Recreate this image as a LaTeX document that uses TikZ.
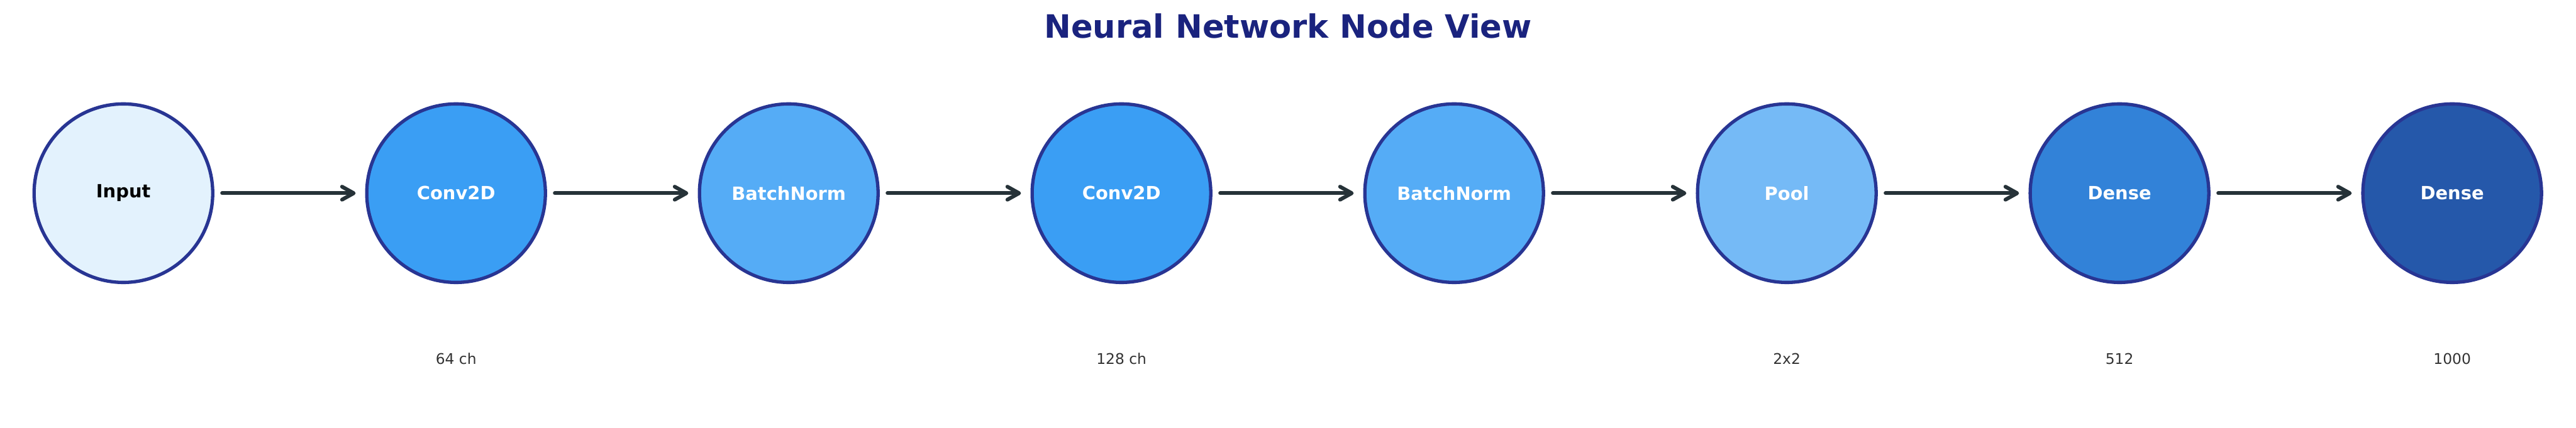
\documentclass[tikz,border=0pt]{standalone}
\usepackage{fontspec}
\setmainfont{DejaVu Sans}
\usetikzlibrary{arrows.meta}
\definecolor{titlecol}{HTML}{1A237E}
\definecolor{bordercol}{HTML}{283593}
\definecolor{arrowcol}{HTML}{263238}
\definecolor{subcol}{HTML}{333333}
\definecolor{cInput}{HTML}{E3F2FD}
\definecolor{cConv}{HTML}{3A9EF4}
\definecolor{cBN}{HTML}{55ACF6}
\definecolor{cPool}{HTML}{75BAF6}
\definecolor{cDenseA}{HTML}{3282D8}
\definecolor{cDenseB}{HTML}{2558AA}
\tikzset{
  layer/.style={circle, draw=bordercol, line width=2.2pt, minimum size=4.14cm, inner sep=0pt,
    font=\fontsize{12}{14}\selectfont\bfseries, text=white},
  sublab/.style={font=\fontsize{9.7}{11}\selectfont, text=subcol},
  conn/.style={draw=arrowcol, line width=2.5pt, line cap=round,
    -{Straight Barb[length=0.27cm, width=0.3cm, line cap=round, round]},
    shorten <=0.18cm, shorten >=0.22cm}
}
\begin{document}
\begin{tikzpicture}
\useasboundingbox (0,0) rectangle (59.70,9.92);
\node[font=\fontsize{21.2}{25}\selectfont\bfseries, text=titlecol] (title) at (29.85,9.32) {Neural Network Node View};
\node[layer, fill=cInput, text=black] (n1) at (2.86,5.44) {Input};
\node[layer, fill=cConv] (n2) at (10.57,5.44) {Conv2D};
\node[layer, fill=cBN] (n3) at (18.28,5.44) {BatchNorm};
\node[layer, fill=cConv] (n4) at (25.99,5.44) {Conv2D};
\node[layer, fill=cBN] (n5) at (33.70,5.44) {BatchNorm};
\node[layer, fill=cPool] (n6) at (41.41,5.44) {Pool};
\node[layer, fill=cDenseA] (n7) at (49.12,5.44) {Dense};
\node[layer, fill=cDenseB] (n8) at (56.83,5.44) {Dense};
\node[sublab] (s2) at (10.57,1.60) {64 ch};
\node[sublab] (s4) at (25.99,1.60) {128 ch};
\node[sublab] (s6) at (41.41,1.60) {2x2};
\node[sublab] (s7) at (49.12,1.60) {512};
\node[sublab] (s8) at (56.83,1.60) {1000};
\foreach \a/\b in {n1/n2,n2/n3,n3/n4,n4/n5,n5/n6,n6/n7,n7/n8}
  \draw[conn] (\a.east) -- (\b.west);
\end{tikzpicture}
\end{document}
